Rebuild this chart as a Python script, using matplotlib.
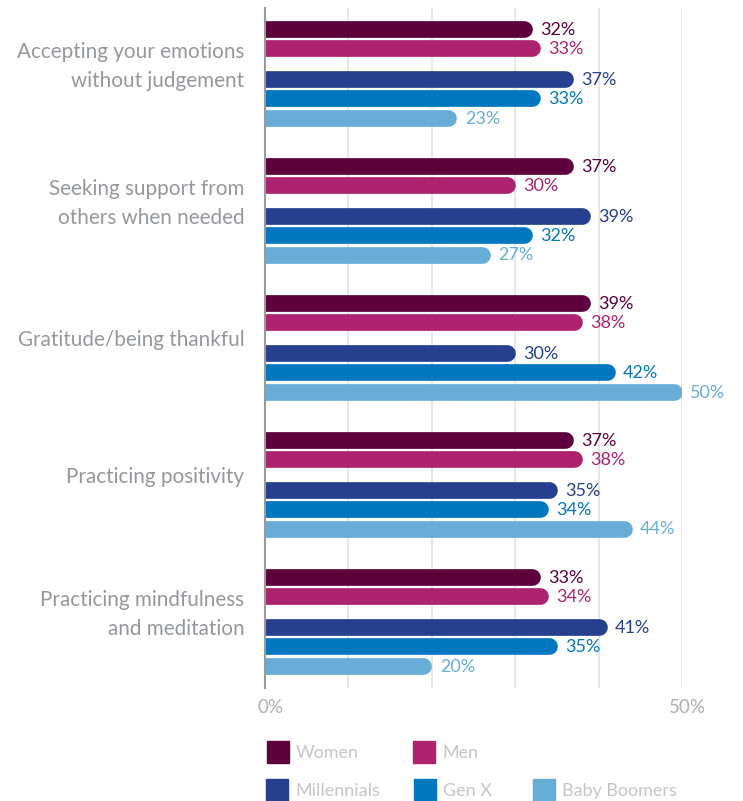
import matplotlib.pyplot as plt
from matplotlib.patches import Rectangle
from matplotlib.transforms import ScaledTranslation

# Data
categories = ["Accepting your emotions\nwithout judgement",
              "Seeking support from\nothers when needed",
              "Gratitude/being thankful",
              "Practicing positivity",
              "Practicing mindfulness\nand meditation"]
series = ["Women", "Men", "Millennials", "Gen X", "Baby Boomers"]
women = [32, 37, 39, 37, 33]
men = [33, 30, 38, 38, 34]
millennials = [37, 39, 30, 35, 41]
gen_x = [33, 32, 42, 34, 35]
boomers = [23, 27, 50, 44, 20]
values = [women, men, millennials, gen_x, boomers]
colors = ["#5E003B", "#AE2370", "#26408F", "#0077BF", "#67ADD8"]

plt.rcParams['font.family'] = ['Lato', 'DejaVu Sans']

W, H, DPI = 743, 801, 100
fig = plt.figure(figsize=(W / DPI, H / DPI), dpi=DPI)
ax_l, ax_r, ax_t, ax_b = 265, 682, 8, 688
ax = fig.add_axes([ax_l / W, 1 - ax_b / H, (ax_r - ax_l) / W, (ax_b - ax_t) / H])
ax.set_xlim(0, 50)
ax.set_ylim(ax_b - ax_t, 0)

# layout (pixels from top of axes)
first = 21.3
group_step = 137
offsets = [0, 19, 50, 69, 88.2]
bar_px = 16.7
lw = bar_px * 72 / DPI
px_per_unit = (ax_r - ax_l) / 50
r = bar_px / 2 / px_per_unit

for s, (vals, col) in enumerate(zip(values, colors)):
    for g, v in enumerate(vals):
        y = first + g * group_step + offsets[s]
        ax.plot([-5, v - r], [y, y], color=col, lw=lw, solid_capstyle='round',
                clip_on=True, zorder=3)
        ax.text(v + 0.95, y + 1, f"{v}%", color=col, fontsize=13,
                va='center', ha='left', zorder=4)

for g, cat in enumerate(categories):
    yc = first + g * group_step + offsets[-1] / 2 - 7
    ax.text(-2.5, yc, cat, ha='right', va='center', fontsize=14.9,
            color='#94989E', fontweight='normal', linespacing=1.55)

ax.set_xticks(range(0, 51, 10))
ax.set_xticklabels(['0%', '', '', '', '', '50%'])
ax.tick_params(axis='x', length=0, pad=8, labelsize=13.5, labelcolor='#AFAFAF')
shift = ScaledTranslation(5 / DPI, 0, fig.dpi_scale_trans)
for lbl in ax.get_xticklabels():
    lbl.set_transform(lbl.get_transform() + shift)
ax.set_yticks([])
ax.grid(axis='x', color='#E3E3E3', lw=1.2, zorder=0)
for sp in ['top', 'right', 'bottom']:
    ax.spines[sp].set_visible(False)
ax.spines['left'].set_color('#9A9A9A')
ax.spines['left'].set_linewidth(1.5)
ax.spines['left'].set_zorder(5)

# Legend (manual layout)
leg_pos = [(267, 741), (413, 741), (266, 779), (414, 779), (533, 779)]
for name, col, (lx, ly) in zip(series, colors, leg_pos):
    fig.patches.append(Rectangle((lx / W, 1 - (ly + 22) / H), 22 / W, 22 / H,
                                 transform=fig.transFigure, color=col))
    fig.text((lx + 29) / W, 1 - (ly + 12) / H, name, fontsize=13,
             color='#C6C6C6', va='center', ha='left', fontweight='normal')

fig.savefig("out.png", dpi=DPI)
